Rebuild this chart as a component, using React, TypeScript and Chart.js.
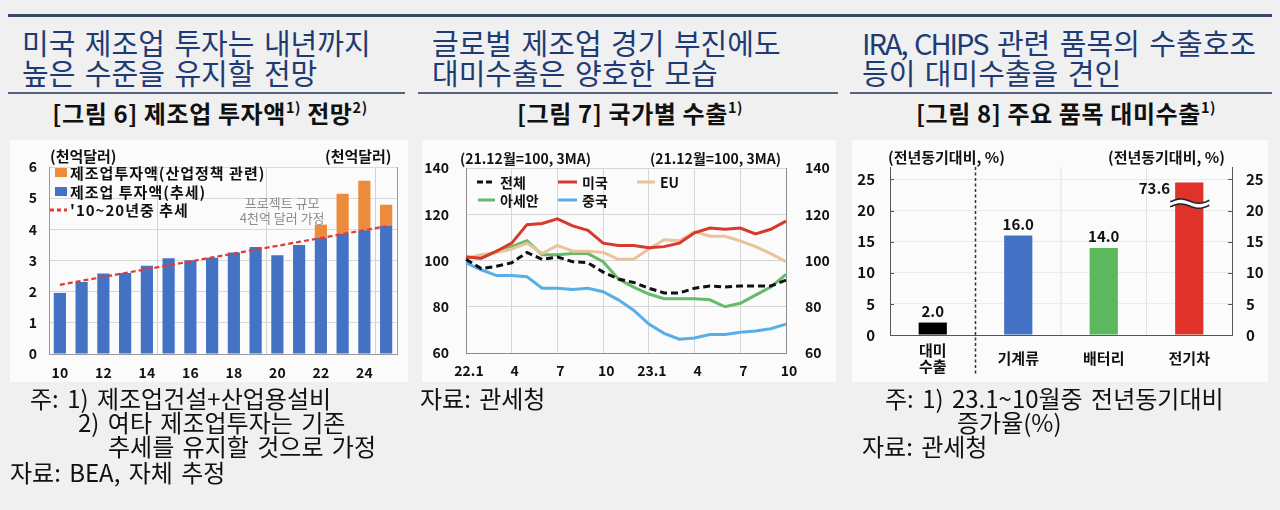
import React, { useEffect, useRef } from 'react';
import { Chart, registerables } from 'chart.js';
import type { ChartConfiguration, Plugin } from 'chart.js';

Chart.register(...registerables);

const FONT = "'Noto Sans CJK KR', 'Noto Sans', sans-serif";
Chart.defaults.font.family = FONT;
Chart.defaults.color = '#111111';

// [그림 6] 제조업 투자액 전망 (천억달러)
const investYears = ['10', '11', '12', '13', '14', '15', '16', '17', '18', '19', '20', '21', '22', '23', '24', '25'];
const investTrendBars = [1.96, 2.31, 2.58, 2.6, 2.83, 3.07, 3.01, 3.09, 3.26, 3.43, 3.17, 3.5, 3.74, 3.85, 3.97, 4.12];
const investPolicyBars = [null, null, null, null, null, null, null, null, null, null, null, null, 0.41, 1.29, 1.59, 0.67];
const investTrendLine = [2.22, 2.35, 2.47, 2.6, 2.72, 2.85, 2.97, 3.1, 3.22, 3.35, 3.47, 3.6, 3.72, 3.85, 3.97, 4.1];

// [그림 7] 국가별 수출 (21.12월=100, 3MA)
const exportMonths = ['22.1', '2', '3', '4', '5', '6', '7', '8', '9', '10', '11', '12', '23.1', '2', '3', '4', '5', '6', '7', '8', '9', '10'];
const exportTotal = [100.5, 96.5, 97.5, 99, 103.5, 100.5, 101.5, 99.5, 99, 95, 92, 90.5, 88, 86, 86, 88, 89, 88.5, 89, 89, 89, 91.5];
const exportUS = [101.5, 101, 104, 107.5, 115.5, 116, 118, 115, 113, 107.5, 106.5, 106.5, 105.5, 106, 107.5, 112, 114, 113.5, 114, 111.5, 113.5, 117];
const exportEU = [101, 102.5, 103.5, 105, 107.5, 103, 106.5, 104, 104, 103.5, 100.5, 100.5, 105, 109, 108.5, 112.5, 110.5, 110.5, 108.5, 106, 103, 99.5];
const exportASEAN = [101.5, 101, 104, 106, 108.5, 102.5, 102.5, 103, 103, 99.5, 92, 88.5, 85.5, 83.5, 83.5, 83.5, 83, 80, 81.5, 85, 88.5, 94];
const exportChina = [99, 96, 93.5, 93.5, 93, 88, 88, 87.5, 88, 86.5, 83, 78.5, 72.5, 68.5, 66, 66.5, 68, 68, 69, 69.5, 70.5, 72.5];

// [그림 8] 주요 품목 대미수출 (전년동기대비, %)
const itemNames = [['대미', '수출'], '기계류', '배터리', '전기차'];
const itemGrowth = [2.0, 16.0, 14.0, 73.6];
const itemTicks = [0, 5, 10, 15, 20, 25];
const itemCap = 24.5; // 축을 넘는 막대는 여기서 자르고 물결표시
const itemBreakAt = 21.4;

const BLUE = '#4472c4';
const ORANGE = '#ed8b3c';
const RED = '#e0322b';
const GREEN = '#5cb85c';
const NAVY = '#1f3b73';
const BOX_BG = '#fbfbfb';
const AXIS = '#9a9a9a';
const GRID = '#d9d9d9';

const bold = (size: number) => ({ size, weight: 'bold' as const });

const projectNote: Plugin = {
  id: 'projectNote',
  afterDatasetsDraw(chart) {
    const { ctx, chartArea, scales } = chart;
    const x = chartArea.left + chartArea.width * 0.67;
    ctx.save();
    ctx.fillStyle = '#8c8c8c';
    ctx.font = `13px ${FONT}`;
    ctx.textAlign = 'center';
    ctx.textBaseline = 'middle';
    ctx.fillText('프로젝트 규모', x, scales.y.getPixelForValue(4.85));
    ctx.fillText('4천억 달러 가정', x, scales.y.getPixelForValue(4.35));
    ctx.restore();
  },
};

const buildInvest = (): ChartConfiguration => ({
  type: 'bar',
  data: {
    labels: investYears,
    datasets: [
      {
        type: 'line',
        label: "'10~20년중 추세",
        data: investTrendLine,
        borderColor: '#e23b36',
        borderWidth: 2.2,
        borderDash: [5, 3],
        pointRadius: 0,
        stack: 'trend',
        order: 0,
      } as any,
      { type: 'bar', label: '제조업 투자액(추세)', data: investTrendBars, backgroundColor: BLUE, stack: 'inv', order: 1, barPercentage: 0.56, categoryPercentage: 1 },
      { type: 'bar', label: '제조업투자액(산업정책 관련)', data: investPolicyBars, backgroundColor: ORANGE, stack: 'inv', order: 1, barPercentage: 0.56, categoryPercentage: 1 },
    ],
  },
  options: {
    responsive: false,
    animation: false,
    layout: { padding: { top: 27 } },
    plugins: { legend: { display: false }, tooltip: { enabled: false } },
    scales: {
      x: {
        stacked: true,
        offset: true,
        grid: { offset: true, drawTicks: false, color: (c: any) => (c.index % 5 === 0 && c.index > 0 ? '#d2d2d2' : 'rgba(0,0,0,0)') },
        border: { color: AXIS },
        ticks: { autoSkip: false, maxRotation: 0, padding: 10, font: bold(14), callback: (_v: any, i: number) => (i % 2 === 0 ? investYears[i] : '') },
        afterFit: (s: any) => { s.height = 28; },
      },
      y: {
        stacked: true,
        min: 0,
        max: 6,
        grid: { color: GRID, drawTicks: false },
        border: { color: AXIS },
        ticks: { stepSize: 1, padding: 12, font: bold(14) },
        afterFit: (s: any) => { s.width = 39; },
      },
      y2: {
        position: 'right',
        min: 0,
        max: 6,
        grid: { display: false },
        border: { color: AXIS },
        ticks: { display: false },
        afterFit: (s: any) => { s.width = 11; },
      },
    },
  } as any,
  plugins: [projectNote],
});

const buildExport = (): ChartConfiguration => ({
  type: 'line',
  data: {
    labels: exportMonths,
    datasets: [
      { label: '전체', data: exportTotal, borderColor: '#111111', borderWidth: 3, borderDash: [7, 4], pointRadius: 0 },
      { label: '미국', data: exportUS, borderColor: '#d8392d', borderWidth: 3, pointRadius: 0 },
      { label: 'EU', data: exportEU, borderColor: '#e9c39a', borderWidth: 3, pointRadius: 0 },
      { label: '아세안', data: exportASEAN, borderColor: '#66bb6a', borderWidth: 3, pointRadius: 0 },
      { label: '중국', data: exportChina, borderColor: '#5aaee6', borderWidth: 3, pointRadius: 0 },
    ],
  },
  options: {
    responsive: false,
    animation: false,
    layout: { padding: { top: 28 } },
    plugins: { legend: { display: false }, tooltip: { enabled: false } },
    scales: {
      x: {
        offset: false,
        grid: { drawTicks: false, color: (c: any) => (c.index % 3 === 0 && c.index > 0 && c.index < 21 ? '#d6d6d6' : 'rgba(0,0,0,0)') },
        border: { color: '#8c8c8c' },
        ticks: { autoSkip: false, maxRotation: 0, padding: 9, labelOffset: 3, font: bold(14), callback: (_v: any, i: number) => (i % 3 === 0 ? exportMonths[i] : '') },
        afterFit: (s: any) => { s.height = 29; },
      },
      y: {
        min: 60,
        max: 140,
        grid: { color: '#d6d6d6', drawTicks: false },
        border: { color: '#8c8c8c' },
        ticks: { stepSize: 20, padding: 17, font: bold(14) },
        afterFit: (s: any) => { s.width = 44; },
      },
      y2: {
        position: 'right',
        min: 60,
        max: 140,
        grid: { display: false, drawTicks: false },
        border: { color: '#8c8c8c' },
        ticks: { stepSize: 20, padding: 19, font: bold(14) },
        afterFit: (s: any) => { s.width = 50; },
      },
    },
  } as any,
});

const itemDecor: Plugin = {
  id: 'itemDecor',
  beforeDatasetsDraw(chart) {
    const { ctx, chartArea, scales } = chart;
    const x = scales.x as any;
    ctx.save();
    for (let i = 1; i < itemNames.length; i++) {
      const px = (x.getPixelForTick(i - 1) + x.getPixelForTick(i)) / 2;
      ctx.beginPath();
      if (i === 1) {
        ctx.strokeStyle = '#333333';
        ctx.lineWidth = 1.5;
        ctx.setLineDash([3, 2.5]);
        ctx.moveTo(px, chartArea.top);
        ctx.lineTo(px, chartArea.bottom + 40);
      } else {
        ctx.strokeStyle = '#e2e2e2';
        ctx.lineWidth = 1;
        ctx.setLineDash([]);
        ctx.moveTo(px, chartArea.top);
        ctx.lineTo(px, chartArea.bottom);
      }
      ctx.stroke();
    }
    ctx.setLineDash([]);
    ctx.strokeStyle = '#555555';
    ctx.lineWidth = 1;
    const y = scales.y as any;
    itemTicks.filter((v) => v > 0).forEach((v) => {
      const py = Math.round(y.getPixelForValue(v)) + 0.5;
      ctx.beginPath();
      ctx.moveTo(chartArea.left, py);
      ctx.lineTo(chartArea.left + 4, py);
      ctx.moveTo(chartArea.right - 4, py);
      ctx.lineTo(chartArea.right, py);
      ctx.stroke();
    });
    ctx.restore();
  },
  afterDatasetsDraw(chart) {
    const { ctx, scales } = chart;
    const bars = chart.getDatasetMeta(0).data as any[];
    ctx.save();
    ctx.font = `bold 15px ${FONT}`;
    ctx.fillStyle = '#111111';
    bars.forEach((bar, i) => {
      const v = itemGrowth[i];
      const w = bar.width;
      if (v > itemCap) {
        ctx.textAlign = 'right';
        ctx.textBaseline = 'middle';
        ctx.fillText(v.toFixed(1), bar.x - w / 2 - 5, bar.y + 6);
        // 물결 생략 표시
        const yb = scales.y.getPixelForValue(itemBreakAt);
        const x0 = bar.x - w / 2 - 5;
        const x1 = bar.x + w / 2 + 6;
        const n = 24;
        const top: [number, number][] = [];
        for (let k = 0; k <= n; k++) {
          const t = k / n;
          top.push([x0 + (x1 - x0) * t, yb - 2.5 * Math.sin(Math.PI * 2 * t) - 1.5 * t]);
        }
        ctx.beginPath();
        top.forEach(([px, py], k) => (k === 0 ? ctx.moveTo(px, py) : ctx.lineTo(px, py)));
        for (let k = n; k >= 0; k--) ctx.lineTo(top[k][0], top[k][1] + 5);
        ctx.closePath();
        ctx.fillStyle = BOX_BG;
        ctx.fill();
        ctx.strokeStyle = '#222222';
        ctx.lineWidth = 1.6;
        ctx.beginPath();
        top.forEach(([px, py], k) => (k === 0 ? ctx.moveTo(px, py) : ctx.lineTo(px, py)));
        ctx.stroke();
        ctx.beginPath();
        top.forEach(([px, py], k) => (k === 0 ? ctx.moveTo(px, py + 5) : ctx.lineTo(px, py + 5)));
        ctx.stroke();
        ctx.fillStyle = '#111111';
      } else {
        ctx.textAlign = 'center';
        ctx.textBaseline = 'bottom';
        ctx.fillText(v.toFixed(1), bar.x, bar.y - 4);
      }
    });
    ctx.restore();
  },
};

const setItemTicks = (s: any) => {
  s.ticks = itemTicks.map((value) => ({ value }));
};

const buildItems = (): ChartConfiguration => ({
  type: 'bar',
  data: {
    labels: itemNames as any,
    datasets: [
      {
        data: itemGrowth.map((v) => Math.min(v, itemCap)),
        backgroundColor: ['#000000', BLUE, GREEN, RED],
        barPercentage: 0.33,
        categoryPercentage: 1,
      },
    ],
  },
  options: {
    responsive: false,
    animation: false,
    layout: { padding: { top: 27 } },
    plugins: { legend: { display: false }, tooltip: { enabled: false } },
    scales: {
      x: {
        offset: true,
        grid: { display: false },
        border: { color: '#555555' },
        ticks: { autoSkip: false, maxRotation: 0, crossAlign: 'center', padding: 7, font: { size: 15, weight: 'bold', lineHeight: 1.1 } },
        afterFit: (s: any) => { s.height = 47; },
      },
      y: {
        min: 0,
        max: 27,
        afterBuildTicks: setItemTicks,
        grid: { drawTicks: false, color: (c: any) => (c.tick && c.tick.value > 0 ? '#ebebeb' : 'rgba(0,0,0,0)') },
        border: { color: '#555555' },
        ticks: { padding: 15, font: bold(15) },
        afterFit: (s: any) => { s.width = 38; },
      },
      y2: {
        position: 'right',
        min: 0,
        max: 27,
        afterBuildTicks: setItemTicks,
        grid: { display: false, drawTicks: false },
        border: { color: '#555555' },
        ticks: { padding: 14, font: bold(15) },
        afterFit: (s: any) => { s.width = 36; },
      },
    },
  } as any,
  plugins: [itemDecor],
});

function ChartBox({ left, top, width, height, build }: { left: number; top: number; width: number; height: number; build: () => ChartConfiguration }) {
  const ref = useRef<HTMLCanvasElement | null>(null);
  useEffect(() => {
    let chart: Chart | null = null;
    if (ref.current) chart = new Chart(ref.current, build());
    return () => {
      if (chart) chart.destroy();
    };
  }, [build]);
  return (
    <div style={{ position: 'absolute', left, top, width, height, background: BOX_BG }}>
      <canvas ref={ref} width={width} height={height} style={{ display: 'block' }} />
    </div>
  );
}

const Txt = ({ x, y, size, lh, weight = 400, color = '#111', children, style = {} }: any) => (
  <div style={{ position: 'absolute', left: x, top: y, fontSize: size, lineHeight: `${lh}px`, fontWeight: weight, color, whiteSpace: 'nowrap', ...style }}>{children}</div>
);

const Sup = ({ children }: any) => <span style={{ fontSize: '0.6em', position: 'relative', top: '-0.7em' }}>{children}</span>;

const Rect = ({ x, y, w, h, color }: any) => <div style={{ position: 'absolute', left: x, top: y, width: w, height: h, background: color }} />;

const LineSwatch = ({ x, y, w, color, dash }: any) => (
  <svg style={{ position: 'absolute', left: x, top: y - 3 }} width={w} height={6}>
    <line x1={0} y1={3} x2={w} y2={3} stroke={color} strokeWidth={3} strokeDasharray={dash} />
  </svg>
);

const headStyle = { wordSpacing: 3 };
const noteStyle = { wordSpacing: 3 };
const figStyle = { letterSpacing: 0.6 };

export default function App() {
  return (
    <div style={{ position: 'absolute', left: 0, top: 0, width: 1280, height: 510, background: '#f0f0f0', overflow: 'hidden', fontFamily: FONT, color: '#111' }}>
      <Rect x={8} y={14} w={1264} h={3} color="#3a4766" />

      <Txt x={22} y={27} size={29} lh={30} color={NAVY} style={headStyle}>미국 제조업 투자는 내년까지<br />높은 수준을 유지할 전망</Txt>
      <Txt x={432} y={27} size={29} lh={30} color={NAVY} style={headStyle}>글로벌 제조업 경기 부진에도<br />대미수출은 양호한 모습</Txt>
      <Txt x={862} y={27} size={29} lh={30} color={NAVY} style={headStyle}><span style={{ letterSpacing: -2 }}>IRA, CHIPS</span> 관련 품목의 수출호조<br />등이 대미수출을 견인</Txt>

      <Rect x={8} y={92} w={397} h={2} color="#56627f" />
      <Rect x={418} y={92} w={420} h={2} color="#56627f" />
      <Rect x={850} y={92} w={422} h={2} color="#56627f" />

      <Txt x={10} y={98} size={24} lh={30} weight={700} style={{ width: 400, textAlign: 'center', ...figStyle }}>[그림 6] 제조업 투자액<Sup>1)</Sup> 전망<Sup>2)</Sup></Txt>
      <Txt x={422} y={98} size={24} lh={30} weight={700} style={{ width: 416, textAlign: 'center', ...figStyle }}>[그림 7] 국가별 수출<Sup>1)</Sup></Txt>
      <Txt x={852} y={98} size={24} lh={30} weight={700} style={{ width: 428, textAlign: 'center', ...figStyle }}>[그림 8] 주요 품목 대미수출<Sup>1)</Sup></Txt>

      <ChartBox left={10} top={140} width={398} height={242} build={buildInvest} />
      <ChartBox left={422} top={140} width={414} height={242} build={buildExport} />
      <ChartBox left={852} top={140} width={416} height={242} build={buildItems} />

      {/* 그림 6 축제목·범례 */}
      <Txt x={50} y={147} size={15} lh={18} weight={700}>(천억달러)</Txt>
      <Txt x={325} y={147} size={15} lh={18} weight={700}>(천억달러)</Txt>
      <Rect x={55} y={168} w={12} h={9} color={ORANGE} />
      <Txt x={70} y={164} size={15} lh={18} weight={700} style={{ letterSpacing: 1 }}>제조업투자액(산업정책 관련)</Txt>
      <Rect x={55} y={187} w={12} h={9} color={BLUE} />
      <Txt x={70} y={183} size={15} lh={18} weight={700} style={{ letterSpacing: 1 }}>제조업 투자액(추세)</Txt>
      <LineSwatch x={50} y={210} w={17} color="#e23b36" dash="4 3" />
      <Txt x={70} y={201} size={15} lh={18} weight={700} style={{ letterSpacing: 1 }}>'10~20년중 추세</Txt>

      {/* 그림 7 축제목·범례 */}
      <Txt x={460} y={149} size={14} lh={18} weight={700}>(21.12월=100, 3MA)</Txt>
      <Txt x={650} y={149} size={14} lh={18} weight={700}>(21.12월=100, 3MA)</Txt>
      <LineSwatch x={477} y={182} w={18} color="#111111" dash="6 3" />
      <Txt x={500} y={173} size={14} lh={18} weight={700}>전체</Txt>
      <LineSwatch x={558} y={182} w={19} color="#d8392d" />
      <Txt x={582} y={173} size={14} lh={18} weight={700}>미국</Txt>
      <LineSwatch x={637} y={182} w={18} color="#e9c39a" />
      <Txt x={660} y={173} size={14} lh={18} weight={700}>EU</Txt>
      <LineSwatch x={478} y={200} w={17} color="#66bb6a" />
      <Txt x={500} y={191} size={14} lh={18} weight={700}>아세안</Txt>
      <LineSwatch x={558} y={200} w={19} color="#5aaee6" />
      <Txt x={582} y={191} size={14} lh={18} weight={700}>중국</Txt>

      {/* 그림 8 축제목 */}
      <Txt x={888} y={148} size={15} lh={18} weight={700}>(전년동기대비, %)</Txt>
      <Txt x={1108} y={148} size={15} lh={18} weight={700}>(전년동기대비, %)</Txt>

      {/* 주석 */}
      <Txt x={30} y={386} size={24} lh={24} style={noteStyle}>주: 1) 제조업건설+산업용설비</Txt>
      <Txt x={78} y={410} size={24} lh={24} style={noteStyle}>2) 여타 제조업투자는 기존</Txt>
      <Txt x={108} y={434} size={24} lh={24} style={noteStyle}>추세를 유지할 것으로 가정</Txt>
      <Txt x={10} y={460} size={24} lh={24} style={noteStyle}>자료: BEA, 자체 추정</Txt>

      <Txt x={420} y={386} size={24} lh={24} style={noteStyle}>자료: 관세청</Txt>

      <Txt x={885} y={386} size={24} lh={24} style={noteStyle}>주: 1) 23.1~10월중 전년동기대비</Txt>
      <Txt x={957} y={410} size={24} lh={24} style={noteStyle}>증가율(%)</Txt>
      <Txt x={862} y={434} size={24} lh={24} style={noteStyle}>자료: 관세청</Txt>
    </div>
  );
}
